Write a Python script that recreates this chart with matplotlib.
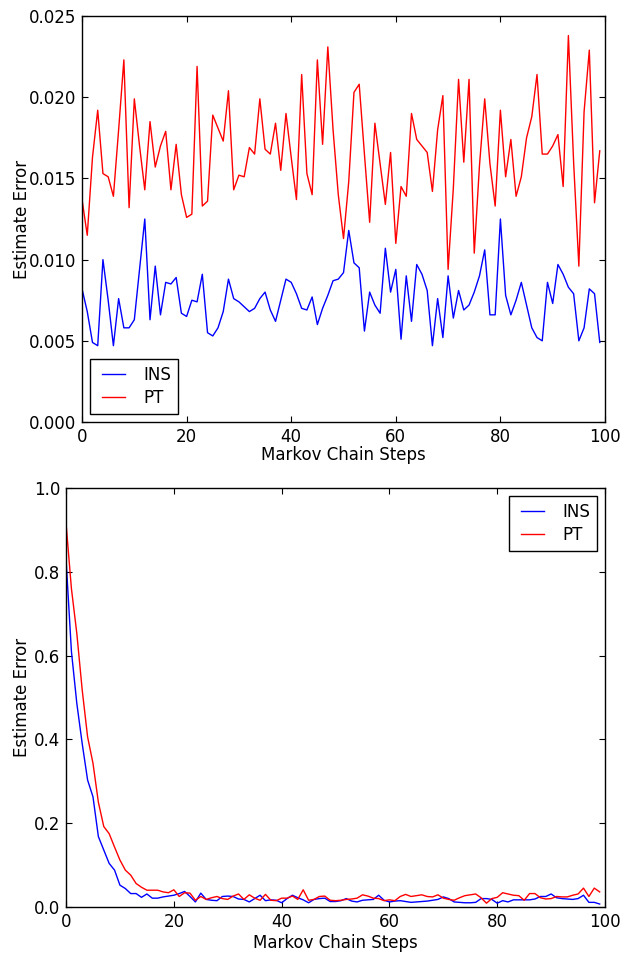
import matplotlib
matplotlib.use("Agg")
import matplotlib.pyplot as plt

steps = list(range(100))

# top panel: per-step estimate error
ins_top = [0.0082, 0.0068, 0.0049, 0.0047, 0.0100, 0.0075, 0.0047, 0.0076, 0.0058, 0.0058,
           0.0063, 0.0094, 0.0125, 0.0063, 0.0096, 0.0066, 0.0086, 0.0085, 0.0089, 0.0067,
           0.0065, 0.0075, 0.0074, 0.0091, 0.0055, 0.0053, 0.0058, 0.0068, 0.0088, 0.0076,
           0.0074, 0.0071, 0.0068, 0.0070, 0.0076, 0.0080, 0.0069, 0.0062, 0.0075, 0.0088,
           0.0086, 0.0079, 0.0070, 0.0069, 0.0077, 0.0060, 0.0070, 0.0078, 0.0087, 0.0088,
           0.0092, 0.0118, 0.0098, 0.0095, 0.0056, 0.0080, 0.0072, 0.0067, 0.0107, 0.0080,
           0.0094, 0.0051, 0.0090, 0.0062, 0.0097, 0.0091, 0.0081, 0.0047, 0.0076, 0.0052,
           0.0090, 0.0064, 0.0081, 0.0069, 0.0072, 0.0080, 0.0090, 0.0106, 0.0066, 0.0066,
           0.0125, 0.0078, 0.0066, 0.0075, 0.0086, 0.0072, 0.0058, 0.0052, 0.0050, 0.0086,
           0.0073, 0.0097, 0.0091, 0.0083, 0.0079, 0.0050, 0.0058, 0.0082, 0.0079, 0.0049]

pt_top = [0.0137, 0.0115, 0.0163, 0.0192, 0.0153, 0.0151, 0.0139, 0.0180, 0.0223, 0.0132,
          0.0199, 0.0170, 0.0143, 0.0185, 0.0157, 0.0170, 0.0179, 0.0143, 0.0171, 0.0140,
          0.0126, 0.0128, 0.0219, 0.0133, 0.0136, 0.0189, 0.0181, 0.0173, 0.0204, 0.0143,
          0.0152, 0.0151, 0.0169, 0.0165, 0.0199, 0.0168, 0.0165, 0.0184, 0.0155, 0.0190,
          0.0163, 0.0137, 0.0214, 0.0153, 0.0140, 0.0223, 0.0171, 0.0231, 0.0180, 0.0140,
          0.0113, 0.0148, 0.0203, 0.0208, 0.0165, 0.0123, 0.0184, 0.0159, 0.0134, 0.0166,
          0.0110, 0.0145, 0.0139, 0.0190, 0.0174, 0.0170, 0.0166, 0.0142, 0.0180, 0.0201,
          0.0094, 0.0144, 0.0211, 0.0160, 0.0211, 0.0104, 0.0158, 0.0199, 0.0159, 0.0133,
          0.0192, 0.0151, 0.0174, 0.0139, 0.0151, 0.0175, 0.0188, 0.0214, 0.0165, 0.0165,
          0.0170, 0.0177, 0.0145, 0.0238, 0.0160, 0.0096, 0.0191, 0.0229, 0.0135, 0.0167]

# bottom panel: error decay over the chain
ins_bottom = [0.83, 0.61, 0.486, 0.39, 0.303, 0.263, 0.168, 0.136, 0.104, 0.088,
              0.052, 0.044, 0.032, 0.032, 0.023, 0.031, 0.021, 0.021, 0.024, 0.026,
              0.028, 0.032, 0.037, 0.025, 0.012, 0.033, 0.018, 0.016, 0.015, 0.025,
              0.026, 0.025, 0.019, 0.018, 0.012, 0.020, 0.028, 0.015, 0.017, 0.016,
              0.010, 0.020, 0.028, 0.022, 0.017, 0.010, 0.018, 0.020, 0.021, 0.013,
              0.013, 0.015, 0.020, 0.014, 0.012, 0.016, 0.017, 0.018, 0.028, 0.016,
              0.012, 0.014, 0.015, 0.013, 0.011, 0.012, 0.013, 0.014, 0.016, 0.018,
              0.024, 0.020, 0.012, 0.011, 0.010, 0.010, 0.011, 0.020, 0.020, 0.018,
              0.009, 0.015, 0.012, 0.017, 0.017, 0.017, 0.017, 0.019, 0.025, 0.025,
              0.031, 0.022, 0.020, 0.019, 0.018, 0.020, 0.028, 0.011, 0.011, 0.007]

pt_bottom = [0.916, 0.76, 0.653, 0.518, 0.406, 0.343, 0.25, 0.192, 0.175, 0.143,
             0.112, 0.088, 0.076, 0.056, 0.047, 0.040, 0.040, 0.040, 0.036, 0.034,
             0.041, 0.025, 0.034, 0.033, 0.016, 0.025, 0.018, 0.022, 0.025, 0.020,
             0.018, 0.026, 0.031, 0.018, 0.029, 0.021, 0.016, 0.030, 0.016, 0.015,
             0.021, 0.021, 0.026, 0.018, 0.041, 0.016, 0.018, 0.025, 0.026, 0.016,
             0.015, 0.016, 0.018, 0.019, 0.021, 0.029, 0.026, 0.021, 0.020, 0.015,
             0.017, 0.015, 0.025, 0.030, 0.025, 0.027, 0.029, 0.025, 0.024, 0.029,
             0.021, 0.018, 0.016, 0.022, 0.027, 0.029, 0.031, 0.022, 0.009, 0.020,
             0.023, 0.034, 0.031, 0.028, 0.027, 0.016, 0.032, 0.032, 0.022, 0.019,
             0.020, 0.025, 0.024, 0.024, 0.028, 0.031, 0.045, 0.025, 0.045, 0.036]

plt.rcParams['font.family'] = 'DejaVu Sans'
plt.rcParams['font.size'] = 12
plt.rcParams['xtick.direction'] = 'in'
plt.rcParams['ytick.direction'] = 'in'
plt.rcParams['xtick.top'] = True
plt.rcParams['ytick.right'] = True
plt.rcParams['xtick.major.size'] = 4
plt.rcParams['ytick.major.size'] = 4
plt.rcParams['xtick.major.pad'] = 4
plt.rcParams['ytick.major.pad'] = 4
plt.rcParams['axes.linewidth'] = 1.0
plt.rcParams['axes.edgecolor'] = 'black'


def style_legend(ax, loc):
    leg = ax.legend(loc=loc, fontsize=12, numpoints=2, handlelength=2.0,
                    handletextpad=0.8, fancybox=False, framealpha=1.0,
                    borderpad=0.4, labelspacing=0.3, borderaxespad=0.5)
    leg.get_frame().set_edgecolor('black')
    leg.get_frame().set_linewidth(1.0)


fig = plt.figure(figsize=(6.2, 9.55), dpi=100)

ax1 = fig.add_axes([0.1323, 0.5581, 0.8435, 0.4251])
ax1.plot(steps, ins_top, color='b', linewidth=1.0, label='INS')
ax1.plot(steps, pt_top, color='r', linewidth=1.0, label='PT')
ax1.set_xlim(0, 100)
ax1.set_ylim(0, 0.025)
ax1.set_xticks([0, 20, 40, 60, 80, 100])
ax1.set_yticks([0.0, 0.005, 0.010, 0.015, 0.020, 0.025])
ax1.set_yticklabels(['0.000', '0.005', '0.010', '0.015', '0.020', '0.025'])
ax1.set_xlabel('Markov Chain Steps')
ax1.set_ylabel('Estimate Error')
ax1.xaxis.set_label_coords(0.5, -0.0585)
ax1.yaxis.set_label_coords(-0.0977, 0.5)
style_legend(ax1, 'lower left')

ax2 = fig.add_axes([0.1065, 0.0503, 0.8694, 0.4387])
ax2.plot(steps, ins_bottom, color='b', linewidth=1.0, label='INS')
ax2.plot(steps, pt_bottom, color='r', linewidth=1.0, label='PT')
ax2.set_xlim(0, 100)
ax2.set_ylim(0, 1.0)
ax2.set_xticks([0, 20, 40, 60, 80, 100])
ax2.set_yticks([0.0, 0.2, 0.4, 0.6, 0.8, 1.0])
ax2.set_xlabel('Markov Chain Steps')
ax2.set_ylabel('Estimate Error')
ax2.xaxis.set_label_coords(0.5, -0.0637)
ax2.yaxis.set_label_coords(-0.065, 0.5)
style_legend(ax2, 'upper right')

fig.savefig('out.png', dpi=100, facecolor='white')
